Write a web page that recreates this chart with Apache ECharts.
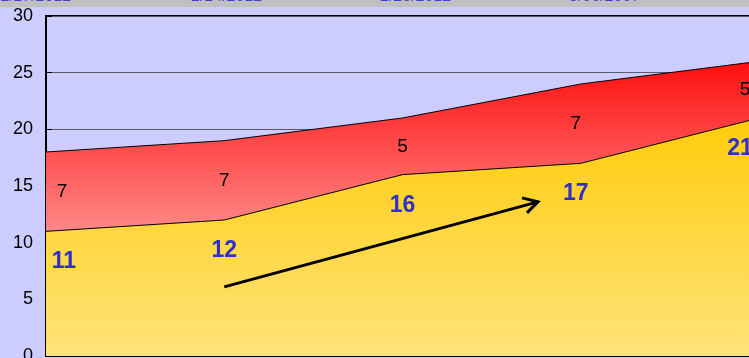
<!DOCTYPE html>
<html>
<head>
<meta charset="utf-8">
<script src="https://cdn.jsdelivr.net/npm/echarts@6/dist/echarts.min.js"></script>
<style>
html,body{margin:0;padding:0;background:#ccccff;}
#c{width:749px;height:358px;}
</style>
</head>
<body>
<div id="c"></div>
<script>
var categories = ['1', '2', '3', '4', '5'];
var baseValues = [11, 12, 16, 17, 21];
var topValues = [7, 7, 5, 7, 5];
var yTicks = [0, 5, 10, 15, 20, 25, 30];
var headerTexts = ['1/17/2012', '2/14/2012', '2/28/2012', '3/06/2007'];

var chart = echarts.init(document.getElementById('c'));
var midValues = baseValues.map(function (v, i) { return v + topValues[i] / 2; });
var baseLabelOffsets = [18, 0, 0, -5, -19];
var topLabelOffsets = [16, 0, 0, -5, -14];

var option = {
  backgroundColor: '#ccccff',
  animation: false,
  grid: { left: 46, top: 16, right: -10, bottom: 2, outerBoundsMode: 'none', containLabel: false, show: true, borderColor: '#000', borderWidth: 2, backgroundColor: '#ccccff' },
  xAxis: {
    type: 'category', data: categories, boundaryGap: false,
    axisLine: { lineStyle: { color: '#000', width: 2 } },
    axisTick: { inside: true, length: 5, lineStyle: { color: '#000', width: 2 } },
    axisLabel: { show: false }
  },
  yAxis: {
    type: 'value', min: yTicks[0], max: yTicks[yTicks.length - 1], interval: 5,
    axisLine: { show: true, lineStyle: { color: '#000', width: 1.5 } },
    axisTick: { show: true, inside: true, length: 6, lineStyle: { color: '#000' } },
    axisLabel: { color: '#000', fontSize: 18, fontFamily: 'Liberation Sans Narrow, Arial Narrow, Liberation Sans', margin: 13 },
    splitLine: { lineStyle: { color: '#5a5a6e', width: 1 } }
  },
  series: [
    {
      type: 'line', stack: 's', data: baseValues, symbol: 'none', z: 3,
      lineStyle: { color: '#000', width: 1 },
      areaStyle: { opacity: 1, color: new echarts.graphic.LinearGradient(0, 0, 0, 1, [
        { offset: 0, color: '#ffcc0a' }, { offset: 1, color: '#ffe37a' }]) }
    },
    {
      type: 'line', stack: 's', data: topValues, symbol: 'none', z: 2,
      lineStyle: { color: '#000', width: 1 },
      areaStyle: { opacity: 1, color: new echarts.graphic.LinearGradient(0, 0, 0, 1, [
        { offset: 0, color: '#ff0f0f' }, { offset: 1, color: '#ff8888' }]) }
    },
    {
      type: 'scatter', data: baseValues, symbolSize: 0, z: 5,
      itemStyle: { opacity: 1 },
      label: {
        show: true, position: 'bottom', distance: 19,
        color: '#3030c8', fontSize: 23, fontWeight: 'bold', fontFamily: 'Liberation Sans'
      },
      labelLayout: function (p) { return { dx: baseLabelOffsets[p.dataIndex] }; }
    },
    {
      type: 'scatter', data: midValues, symbolSize: 0, z: 5,
      itemStyle: { opacity: 1 },
      label: {
        show: true, position: 'inside',
        formatter: function (p) { return topValues[p.dataIndex]; },
        color: '#000', fontSize: 19, fontFamily: 'Liberation Sans',
        textBorderWidth: 0
      },
      labelLayout: function (p) { return { dx: topLabelOffsets[p.dataIndex] }; }
    }
  ]
};
chart.setOption(option);

var p0 = chart.convertToPixel({ gridIndex: 0 }, [1, 6.1]);
var pa = chart.convertToPixel({ gridIndex: 0 }, [2, 13.6]);
var pb = chart.convertToPixel({ gridIndex: 0 }, [3, 13.6]);
var tip = [pa[0] + (pb[0] - pa[0]) * 0.76, pa[1]];
var graphics = [
  { type: 'rect', shape: { x: 0, y: 0, width: 749, height: 7 }, style: { fill: '#c0c0c0' }, z: 10 },
  { type: 'line', shape: { x1: p0[0], y1: p0[1], x2: tip[0], y2: tip[1] }, style: { stroke: '#000', lineWidth: 3 }, z: 20 },
  { type: 'polyline', shape: { points: [[tip[0] - 16, tip[1] - 4], tip, [tip[0] - 11, tip[1] + 11]] }, style: { stroke: '#000', lineWidth: 3, fill: null }, z: 20 }
];
var hx = [0, 191, 380, 569];
headerTexts.forEach(function (t, i) {
  graphics.push({ type: 'text', x: hx[i], y: -11, z: 11, style: { text: t, fill: '#4040c8', fontSize: 16, fontFamily: 'Liberation Sans' } });
});
chart.setOption({ graphic: graphics });
</script>
</body>
</html>
